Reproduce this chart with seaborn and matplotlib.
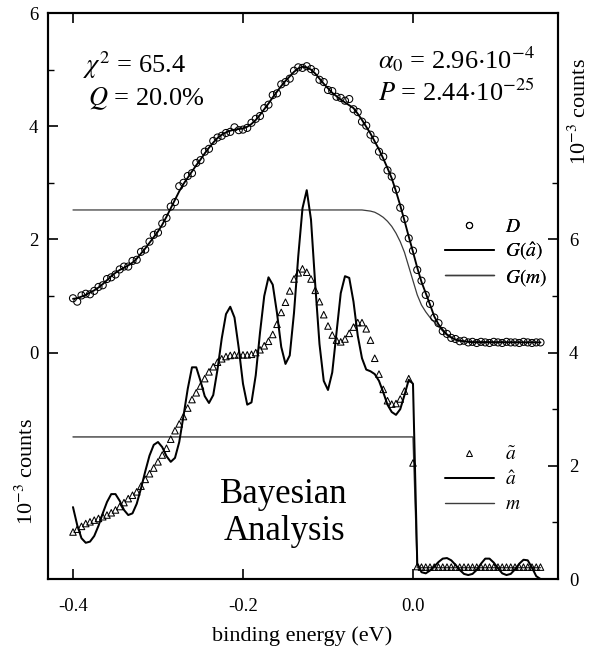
import numpy as np
import matplotlib
matplotlib.use("Agg")
import matplotlib.pyplot as plt
import seaborn as sns
from matplotlib.lines import Line2D
from matplotlib.ticker import FixedLocator

# ---------------- data ----------------
energy = np.round(np.linspace(-0.400, 0.150, 111), 3)   # binding energy grid (eV)

D = [0.96, 0.90, 1.01, 1.04, 1.03, 1.09, 1.16, 1.19, 1.30, 1.33,
     1.38, 1.47, 1.52, 1.52, 1.62, 1.64, 1.78, 1.82, 1.96, 2.08,
     2.12, 2.28, 2.38, 2.58, 2.66, 2.94, 3.00, 3.12, 3.17, 3.35,
     3.40, 3.55, 3.60, 3.74, 3.80, 3.83, 3.88, 3.90, 3.98, 3.93,
     3.94, 3.97, 4.06, 4.13, 4.18, 4.32, 4.38, 4.55, 4.58, 4.74,
     4.78, 4.84, 4.98, 5.04, 5.03, 5.06, 5.01, 4.96, 4.82, 4.78,
     4.64, 4.62, 4.52, 4.50, 4.45, 4.48, 4.30, 4.25, 4.08, 4.01,
     3.85, 3.76, 3.55, 3.46, 3.22, 3.11, 2.88, 2.56, 2.36, 2.02,
     1.80, 1.46, 1.27, 1.02, 0.86, 0.62, 0.52, 0.38, 0.33, 0.26,
     0.24, 0.20, 0.21, 0.18, 0.19, 0.17, 0.19, 0.18, 0.17, 0.19,
     0.18, 0.17, 0.19, 0.18, 0.18, 0.17, 0.19, 0.18, 0.17, 0.18,
     0.18]

G_ahat = [0.95, 0.96, 0.99, 1.02, 1.06, 1.10, 1.15, 1.21, 1.28, 1.35,
          1.41, 1.46, 1.50, 1.54, 1.59, 1.66, 1.75, 1.84, 1.94, 2.04,
          2.14, 2.26, 2.40, 2.55, 2.70, 2.85, 2.98, 3.09, 3.20, 3.31,
          3.41, 3.52, 3.62, 3.71, 3.79, 3.85, 3.89, 3.92, 3.94, 3.95,
          3.96, 3.99, 4.04, 4.11, 4.20, 4.30, 4.40, 4.51, 4.61, 4.71,
          4.80, 4.88, 4.96, 5.02, 5.05, 5.04, 5.00, 4.93, 4.84, 4.75,
          4.67, 4.59, 4.53, 4.47, 4.42, 4.37, 4.32, 4.22, 4.11, 3.99,
          3.87, 3.73, 3.59, 3.43, 3.26, 3.08, 2.85, 2.60, 2.33, 2.05,
          1.78, 1.50, 1.25, 1.05, 0.85, 0.64, 0.50, 0.40, 0.32, 0.27,
          0.23, 0.21, 0.20, 0.19, 0.18, 0.18, 0.18, 0.18, 0.18, 0.18,
          0.18, 0.18, 0.18, 0.18, 0.18, 0.18, 0.18, 0.18, 0.18, 0.18,
          0.18]

Gm_energy = [-0.400, -0.065, -0.060, -0.055, -0.050, -0.045, -0.040, -0.035,
             -0.030, -0.025, -0.020, -0.015, -0.010, -0.005, 0.000, 0.005,
             0.010, 0.015, 0.020, 0.025, 0.030, 0.035, 0.040, 0.045, 0.050,
             0.055, 0.060, 0.150]
G_m = [2.52, 2.52, 2.52, 2.51, 2.50, 2.48, 2.44, 2.39,
       2.32, 2.23, 2.11, 1.96, 1.77, 1.52, 1.27, 1.02,
       0.84, 0.72, 0.62, 0.54, 0.46, 0.38, 0.31, 0.26, 0.23,
       0.21, 0.20, 0.18]

a_tilde = [0.83, 0.88, 0.93, 0.98, 1.01, 1.04, 1.07, 1.10, 1.13, 1.17,
           1.22, 1.28, 1.35, 1.42, 1.48, 1.54, 1.64, 1.76, 1.86, 1.96,
           2.07, 2.19, 2.31, 2.47, 2.62, 2.74, 2.87, 3.02, 3.17, 3.29,
           3.41, 3.54, 3.66, 3.75, 3.83, 3.89, 3.93, 3.95, 3.96, 3.96,
           3.96, 3.96, 3.97, 4.00, 4.05, 4.12, 4.20, 4.32, 4.50, 4.71,
           4.89, 5.09, 5.30, 5.41, 5.48, 5.42, 5.30, 5.10, 4.90, 4.67,
           4.47, 4.31, 4.22, 4.19, 4.24, 4.34, 4.45, 4.53, 4.53, 4.42,
           4.22, 3.90, 3.62, 3.35, 3.15, 3.09, 3.10, 3.18, 3.32, 3.54,
           2.05, 0.22, 0.21, 0.21, 0.21, 0.21, 0.21, 0.21, 0.21, 0.21,
           0.21, 0.21, 0.21, 0.21, 0.21, 0.21, 0.21, 0.21, 0.21, 0.21,
           0.21, 0.21, 0.21, 0.21, 0.21, 0.21, 0.21, 0.21, 0.21, 0.21,
           0.21]

a_hat = [1.27, 0.95, 0.72, 0.64, 0.66, 0.76, 0.94, 1.16, 1.36, 1.50,
         1.50, 1.38, 1.22, 1.13, 1.16, 1.33, 1.60, 1.90, 2.18, 2.37,
         2.42, 2.33, 2.17, 2.07, 2.14, 2.42, 2.88, 3.36, 3.74, 3.74,
         3.50, 3.23, 3.11, 3.25, 3.70, 4.25, 4.68, 4.81, 4.62, 4.08,
         3.45, 3.08, 3.12, 3.60, 4.35, 5.00, 5.33, 5.20, 4.70, 4.10,
         3.80, 3.95, 4.70, 5.70, 6.55, 6.87, 6.35, 5.20, 4.15, 3.50,
         3.34, 3.65, 4.35, 5.05, 5.35, 5.32, 4.90, 4.30, 3.90, 3.70,
         3.67, 3.62, 3.50, 3.30, 3.08, 2.95, 2.90, 3.00, 3.25, 3.52,
         3.45, 0.28, 0.12, 0.10, 0.15, 0.22, 0.30, 0.36, 0.37, 0.33,
         0.25, 0.16, 0.09, 0.07, 0.09, 0.16, 0.27, 0.36, 0.36, 0.29,
         0.19, 0.10, 0.07, 0.09, 0.17, 0.27, 0.34, 0.33, 0.20, 0.05,
         0.00]

m_energy = [-0.400, 0.000, 0.005, 0.150]
m_vals = [2.51, 2.51, 0.20, 0.20]

# ---------------- style ----------------
sns.set_theme(style="ticks")
plt.rcParams["font.family"] = ["Liberation Serif", "DejaVu Serif"]
plt.rcParams["mathtext.fontset"] = "stix"
plt.rcParams["axes.unicode_minus"] = False
for key in ("text.color", "axes.labelcolor", "xtick.color", "ytick.color",
            "axes.edgecolor", "xtick.labelcolor", "ytick.labelcolor"):
    plt.rcParams[key] = "black"

fig = plt.figure(figsize=(6.0, 6.56), dpi=100)
W, H = 600, 656
ax = fig.add_axes([48 / W, 1 - 579 / H, (558 - 48) / W, (579 - 13) / H])
ax2 = ax.twinx()

thin = "#3c3c3c"

# upper spectrum (left axis)
sns.lineplot(x=Gm_energy, y=G_m, ax=ax, color=thin, lw=0.9, estimator=None)
sns.lineplot(x=energy, y=G_ahat, ax=ax, color="black", lw=1.35, estimator=None)
sns.scatterplot(x=energy, y=D, ax=ax, marker="o", s=26, facecolor="none",
                edgecolor="black", linewidth=0.75, zorder=3)

# lower reconstruction (right axis)
sns.lineplot(x=m_energy, y=m_vals, ax=ax2, color=thin, lw=1.0, estimator=None)
sns.lineplot(x=energy, y=a_hat, ax=ax2, color="black", lw=1.45, estimator=None)
sns.scatterplot(x=energy, y=a_tilde, ax=ax2, marker="^", s=22, facecolor="none",
                edgecolor="black", linewidth=0.75, zorder=3)

ax.set_xlim(-0.4294, 0.1706)
ax.set_ylim(-4, 6)
ax2.set_ylim(0, 10)

ax.xaxis.set_major_locator(FixedLocator([-0.4, -0.2, 0.0]))
ax.set_xticklabels(["-0.4", "-0.2", "0.0"])
ax.yaxis.set_major_locator(FixedLocator([0, 2, 4, 6]))
ax.yaxis.set_minor_locator(FixedLocator([1, 3, 5]))
ax2.yaxis.set_major_locator(FixedLocator([0, 2, 4, 6]))
ax2.yaxis.set_minor_locator(FixedLocator([1, 3, 5, 7]))

for a in (ax, ax2):
    for s in a.spines.values():
        s.set_linewidth(1.5)
        s.set_color("black")
ax.tick_params(axis="x", which="major", direction="in", length=7, width=1.2,
               top=True, bottom=True, labelsize=13.5, pad=14, colors="black")
ax.tick_params(axis="y", which="major", direction="in", length=7, width=1.2,
               left=True, right=False, labelsize=13.5, pad=7, colors="black")
ax.tick_params(axis="y", which="minor", direction="in", length=4, width=1.0,
               left=True, right=False, colors="black")
ax2.tick_params(axis="y", which="major", direction="in", length=7, width=1.2,
                labelsize=13.5, pad=8, colors="black")
ax2.tick_params(axis="y", which="minor", direction="in", length=4, width=1.0,
                colors="black")
ax.set_xlabel("")
ax.set_ylabel("")
ax2.set_ylabel("")

# axis labels
fig.text(302 / W, 1 - 636 / H, "binding energy (eV)", ha="center", va="center",
         fontsize=16, color="black")
fig.text(27 / W, 1 - 472 / H, r"10$^{-3}$ counts", ha="center", va="center",
         rotation=90, fontsize=16, color="black")
fig.text(580 / W, 1 - 112 / H, r"10$^{-3}$ counts", ha="center", va="center",
         rotation=90, fontsize=16, color="black")

# annotations
fig.text(83 / W, 1 - 73 / H, r"$\chi^2$ = 65.4", ha="left", va="baseline",
         fontsize=19, color="black")
fig.text(88 / W, 1 - 105 / H, r"$Q$ = 20.0%", ha="left", va="baseline",
         fontsize=19, color="black")
fig.text(378 / W, 1 - 68 / H, r"$\alpha_0$ = 2.96$\cdot$10$^{-4}$", ha="left",
         va="baseline", fontsize=19, color="black")
fig.text(378 / W, 1 - 101 / H, r"$P$ = 2.44$\cdot$10$^{-25}$", ha="left",
         va="baseline", fontsize=19, color="black")
fig.text(284 / W, 1 - 503 / H, "Bayesian", ha="center", va="baseline",
         fontsize=25, color="black")
fig.text(284 / W, 1 - 540 / H, "Analysis", ha="center", va="baseline",
         fontsize=25, color="black")

# legends
h_top = [Line2D([], [], ls="none", marker="o", ms=4.5, mfc="none", mec="black", mew=0.75),
         Line2D([], [], color="black", lw=1.35),
         Line2D([], [], color=thin, lw=1.0)]
leg1 = ax.legend(h_top, [r"$D$", r"$G(\hat{a})$", r"$G(m)$"], loc="upper left",
                 bbox_to_anchor=(445 / W, 1 - 218 / H), bbox_transform=fig.transFigure,
                 frameon=False, fontsize=14, handlelength=2.5, handletextpad=0.6,
                 labelspacing=0.24, borderpad=0, borderaxespad=0, labelcolor="black")
ax.add_artist(leg1)
h_bot = [Line2D([], [], ls="none", marker="^", ms=4.5, mfc="none", mec="black", mew=0.75),
         Line2D([], [], color="black", lw=1.45),
         Line2D([], [], color=thin, lw=1.0)]
ax2.legend(h_bot, [r"$\tilde{a}$", r"$\hat{a}$", r"$m$"], loc="upper left",
           bbox_to_anchor=(445 / W, 1 - 446 / H), bbox_transform=fig.transFigure,
           frameon=False, fontsize=14, handlelength=2.5, handletextpad=0.6,
           labelspacing=0.34, borderpad=0, borderaxespad=0, labelcolor="black")

fig.savefig("out.png", dpi=100)
